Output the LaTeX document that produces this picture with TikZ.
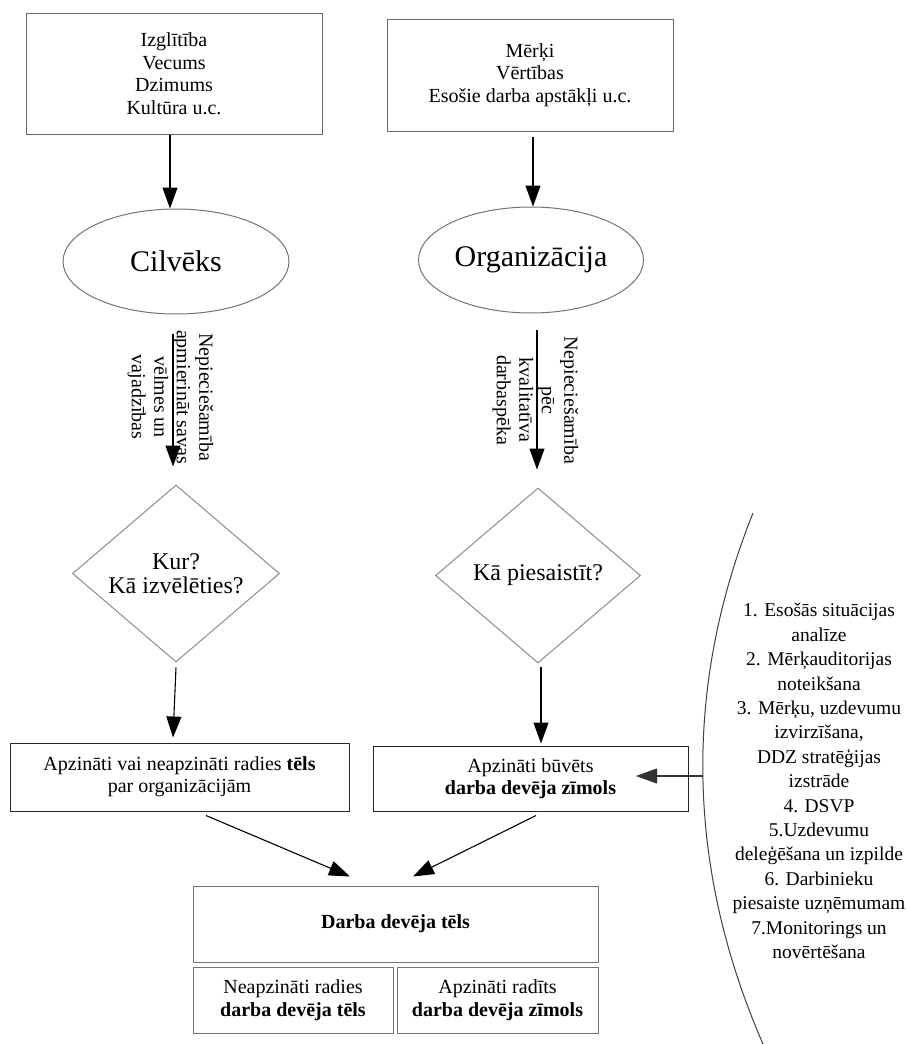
\documentclass[tikz,border=0pt]{standalone}
\usepackage{fontspec}
\setmainfont{Liberation Serif}
\usetikzlibrary{arrows.meta,shapes.geometric}

\begin{document}
\begin{tikzpicture}[x=1pt,y=-1pt,
  every node/.style={inner sep=0pt,align=center},
  txt/.style={font=\fontsize{20}{22.5}\selectfont},
  topbox/.style={draw=black!60,line width=1pt,rectangle,txt},
  oval/.style={draw=black!55,line width=1pt,ellipse,font=\fontsize{30}{34}\selectfont},
  question/.style={draw=black!45,line width=1pt,diamond,font=\fontsize{24}{24}\selectfont},
  midbox/.style={draw=black!85,line width=1pt,rectangle,font=\fontsize{20}{22}\selectfont},
  lowbox/.style={draw=black!55,line width=1pt,rectangle,font=\fontsize{20}{23}\selectfont},
  sidelabel/.style={rotate=-90,font=\fontsize{20}{22.5}\selectfont},
  arr/.style={line width=1.1pt,-{Triangle[length=21pt,width=15pt]}}
]
\useasboundingbox (0,0) rectangle (905,1044);

% upper boxes
\node[topbox,minimum width=296pt,minimum height=121pt] (facts) at (174,73.5)
  {Izglītība\\Vecums\\Dzimums\\Kultūra u.c.};
\node[topbox,minimum width=286pt,minimum height=112pt] (goals) at (530,75)
  {Mērķi\\Vērtības\\Esošie darba apstākļi u.c.};

% the two actors
\node[oval,minimum width=226pt,minimum height=105pt] (person) at (176,261.5) {Cilvēks};
\node[oval,minimum width=225pt,minimum height=106pt] (org) at (531,260) {Organizācija};

% questions
\node[question,minimum width=207pt,minimum height=177pt] (where) at (176,573.5)
  {Kur?\\Kā izvēlēties?};
\node[question,minimum width=205pt,minimum height=175pt] (attract) at (538,575.5)
  {Kā piesaistīt?};

% outcomes
\node[midbox,minimum width=339pt,minimum height=68pt] (image) at (179.5,777)
  {Apzināti vai neapzināti radies \textbf{tēls}\\par organizācijām};
\node[midbox,minimum width=315pt,minimum height=65pt] (brand) at (530.5,778.5)
  {Apzināti būvēts\\\textbf{darba devēja zīmols}};

% result table
\node[lowbox,minimum width=405pt,minimum height=76pt] (result) at (395.5,924)
  {\textbf{Darba devēja tēls}};
\node[lowbox,minimum width=200pt,minimum height=66pt] (unaware) at (293,1000)
  {Neapzināti radies\\\textbf{darba devēja tēls}};
\node[lowbox,minimum width=201pt,minimum height=66pt] (aware) at (497.5,1000)
  {Apzināti radīts\\\textbf{darba devēja zīmols}};

% process steps beside the arc
\node[font=\fontsize{19.5}{24.4}\selectfont] (steps) at (819,781)
  {1. Esošās situācijas\\analīze\\2. Mērķauditorijas\\noteikšana\\
   3. Mērķu, uzdevumu\\izvirzīšana,\\DDZ stratēģijas\\izstrāde\\4. DSVP\\
   5.Uzdevumu\\deleģēšana un izpilde\\6. Darbinieku\\piesaiste uzņēmumam\\
   7.Monitorings un\\novērtēšana};

\coordinate (arctop) at (753,513);
\coordinate (arcbot) at (763,1044);
\coordinate (hook) at (703,776);
\coordinate (hookend) at (636,776);
\draw[black!75,line width=1pt] (arctop) .. controls (684,685) and (685,865) .. (arcbot);

% connectors
\draw[arr] ([xshift=-4pt]facts.south) -- ([xshift=-6pt]person.north);
\draw[arr,shorten <=5pt] ([xshift=3pt]goals.south) -- ([xshift=2pt]org.north);

\draw[arr,shorten <=19pt,shorten >=18pt] ([xshift=-3pt]person.south) -- ([xshift=-3pt]where.north);
\draw[arr,shorten <=16pt,shorten >=18pt] ([xshift=6pt]org.south) -- ([xshift=-1pt]attract.north);

\node[sidelabel] (needp) at (170.5,397)
  {Nepieciešamība\\apmierināt savas\\vēlmes un\\vajadzības};
\node[sidelabel] (needo) at (535.5,400)
  {Nepieciešamība\\pēc\\kvalitatīva\\darbaspēka};

\draw[arr] ([yshift=-5pt]where.south) -- ([xshift=-6.5pt,yshift=5pt]image.north);
\draw[arr] ([xshift=3pt,yshift=-3pt]attract.south) -- ([xshift=10.5pt,yshift=2pt]brand.north);

\draw[arr] ([xshift=26.5pt,yshift=-4pt]image.south) -- ([xshift=-45.5pt,yshift=9pt]result.north);
\draw[arr] ([xshift=5.5pt,yshift=-4pt]brand.south) -- ([xshift=17.5pt,yshift=9pt]result.north);

\draw[arr,black!80] (hook) -- (hookend);
\end{tikzpicture}
\end{document}
